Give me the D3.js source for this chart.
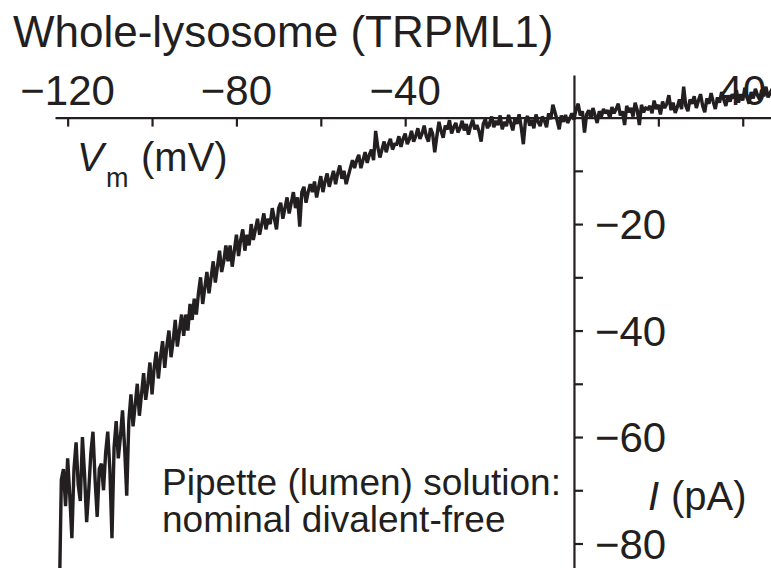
<!DOCTYPE html>
<html>
<head>
<meta charset="utf-8">
<script src="https://cdn.jsdelivr.net/npm/d3@7"></script>
<style>
  body { margin: 0; background: #fff; }
  text { font-family: "Liberation Sans", Arial, Helvetica, sans-serif; fill: #231f20; }
</style>
</head>
<body>
<svg id="chart" width="771" height="568"></svg>
<script>
// ramp sweep, 0.5 mV steps from -122 to +47 mV
var vmStart = -122, vmEnd = 47, vmStep = 0.5;
// whole-lysosome current (pA), 20 samples (10 mV) per row
var currents = [
  -92, -68, -66, -73, -64, -71, -79, -66, -61, -69, -72, -60, -67, -76, -70, -63, -59, -68, -75, -66,       // -122
  -65, -70, -63, -59, -66, -79, -62, -57, -64, -60, -55, -62, -71, -57, -52, -58, -54, -50, -56, -52,       // -112
  -48, -53, -50, -46, -52, -47, -44, -49, -45, -42, -47, -43, -40, -45, -42, -38, -43, -40, -37, -41,       // -102
  -37, -40, -35, -38, -34, -37, -33, -30, -35, -32, -29, -33, -30, -27, -31, -28, -25, -29, -27, -24,       // -92
  -27, -24, -28, -25, -22, -26, -23, -21, -25, -22, -24, -20, -23, -21, -19, -22, -20, -18, -21, -19,       // -82
  -20, -17, -19, -21, -17, -16, -19, -17, -15, -18, -16, -14, -17, -15, -20.5, -14, -13, -16, -14, -12.5,   // -72
  -14, -12, -15, -13, -11, -14, -12, -10.5, -13, -11.5, -10, -12.5, -10.5, -9, -11.5, -10, -12.5, -11, -9.5, -8, // -62
  -9.5, -8, -7, -9.5, -8, -6.5, -8.5, -7, -6, -8, -2.5, -5.5, -7.5, -6, -4.5, -6.5, -5, -4, -6, -5,        // -52
  -5, -3.5, -5.5, -4, -3, -5, -4, -2.5, -4.5, -3.5, -2, -4, -3, -1.5, -3.5, -4.5, -2, -3, -6.5, -3.5,      // -42
  -0.8, -2.5, -3.8, -1.5, -2.2, -0.5, -3, -1.8, -1, -2.8, -2, -0.6, -2.4, -1.2, -3.2, -1.6, -0.4, -2.2, -1.4, -2.6, // -32
  -4.5, -1.2, -0.3, -2, -1, 0.2, -1.8, -0.6, -1.4, 0.4, -2.2, -0.8, -1.6, 0.5, -1, -2.4, -0.2, -1.2, 0.6, -1.8,     // -22
  -5, -0.6, 0.3, -1.5, -0.4, -2, 0.6, -0.8, -1.6, 0.2, -0.6, -1.8, 0.8, -0.3, 2.4, 1, -0.5, -2.2, 0.4, -0.8,        // -12
  0.5, -1, -0.2, 0.8, -0.4, 1.6, 2.6, 0.4, 1.2, -2.8, 0.6, 1.4, -0.2, 1.8, 0.4, -1, 1.2, 0.2, 1.6, 0.8,            // -2
  1.4, -0.2, 2, 0.8, 1.6, 2.6, 0.4, 1.2, -1.4, 2.2, 1, 1.8, 0.2, 2.8, 1.4, -1.4, 2.4, 1, 1.8, 1.6,                  // 8
  2.2, 0.8, 3.2, 1.6, 2.4, 0.6, 3, 1.8, 2.6, 4.2, 1.4, 2.8, 0.9, 2, 3.4, 1.6, 5.8, 2.2, 1.2, 3.4,                   // 18
  2.6, 4, 1.8, 3.2, 4.4, 2.2, 1, 3.6, 2.6, 4.6, 3, 1.6, 3.8, 2.8, 4.8, 3.4, 2.2, 4.2, 3, 4.4,                       // 28
  3.6, 5.2, 2.8, 4.4, 3.2, 5.6, 4, 2.6, 4.8, 3.6, 5.4, 4.2, 3.4, 5.2, 4, 5.8, 3.8, 4.6, 5.4                         // 38
];
var vm = d3.range(vmStart, vmEnd + vmStep / 2, vmStep);

var xTicks = [-120, -100, -80, -60, -40, -20, 20, 40];
var xLabels = [-120, -80, -40, 40];
var yTicks = [-10, -20, -30, -40, -50, -60, -70, -80];
var yLabels = [-20, -40, -60, -80];

var ink = "#231f20";
var svg = d3.select("#chart");

var x = d3.scaleLinear().domain([-123, 46.7]).range([55, 771]);
var y = d3.scaleLinear().domain([8, -84.6]).range([75, 568]);

var fmt = function(d){ return d < 0 ? "\u2212" + Math.abs(d) : "" + d; };

// x axis: ticks hang below, labels sit above
var xg = svg.append("g")
    .attr("transform", "translate(0," + y(0) + ")")
    .call(d3.axisBottom(x).tickValues(xTicks).tickSize(9).tickSizeOuter(0).tickFormat(""));
xg.select(".domain").attr("stroke", ink).attr("stroke-width", 2.2);
xg.selectAll(".tick line").attr("stroke", ink).attr("stroke-width", 2.2);

svg.append("g").selectAll("text")
  .data(xLabels)
  .enter().append("text")
    .attr("x", function(d){ return x(d); })
    .attr("y", y(0) - 13)
    .attr("text-anchor", "middle")
    .style("font-size", "42px")
    .text(fmt);

// y axis
var yg = svg.append("g")
    .attr("transform", "translate(" + x(0) + ",0)")
    .call(d3.axisRight(y).tickValues(yTicks).tickSize(9).tickSizeOuter(0).tickFormat(""));
yg.select(".domain").attr("stroke", ink).attr("stroke-width", 2.2);
yg.selectAll(".tick line").attr("stroke", ink).attr("stroke-width", 2.2);

svg.append("g").selectAll("text")
  .data(yLabels)
  .enter().append("text")
    .attr("x", x(0) + 21)
    .attr("y", function(d){ return y(d); })
    .attr("dy", "0.36em")
    .style("font-size", "42px")
    .text(fmt);

// trace
var line = d3.line()
    .x(function(d){ return x(d[0]); })
    .y(function(d){ return y(d[1]); });

svg.append("path")
    .datum(d3.zip(vm, currents))
    .attr("d", line)
    .attr("fill", "none")
    .attr("stroke", ink)
    .attr("stroke-width", 3.4)
    .attr("stroke-linejoin", "miter")
    .attr("stroke-miterlimit", 2);

// titles and labels
svg.append("text")
    .attr("x", 13).attr("y", 47)
    .style("font-size", "44px")
    .text("Whole-lysosome (TRPML1)");

svg.append("text").attr("x", 77).attr("y", 171)
    .style("font-size", "40px").style("font-style", "italic").text("V");
svg.append("text").attr("x", 106).attr("y", 187)
    .style("font-size", "27px").text("m");
svg.append("text").attr("x", 141).attr("y", 171)
    .style("font-size", "40px").text("(mV)");

svg.append("text").attr("x", 648).attr("y", 510)
    .style("font-size", "40px").style("font-style", "italic").text("I");
svg.append("text").attr("x", 671).attr("y", 510)
    .style("font-size", "40px").text("(pA)");

svg.append("text")
    .attr("x", 162).attr("y", 495)
    .style("font-size", "37px")
    .text("Pipette (lumen) solution:");
svg.append("text")
    .attr("x", 162).attr("y", 532)
    .style("font-size", "37px")
    .text("nominal divalent-free");
</script>
</body>
</html>
